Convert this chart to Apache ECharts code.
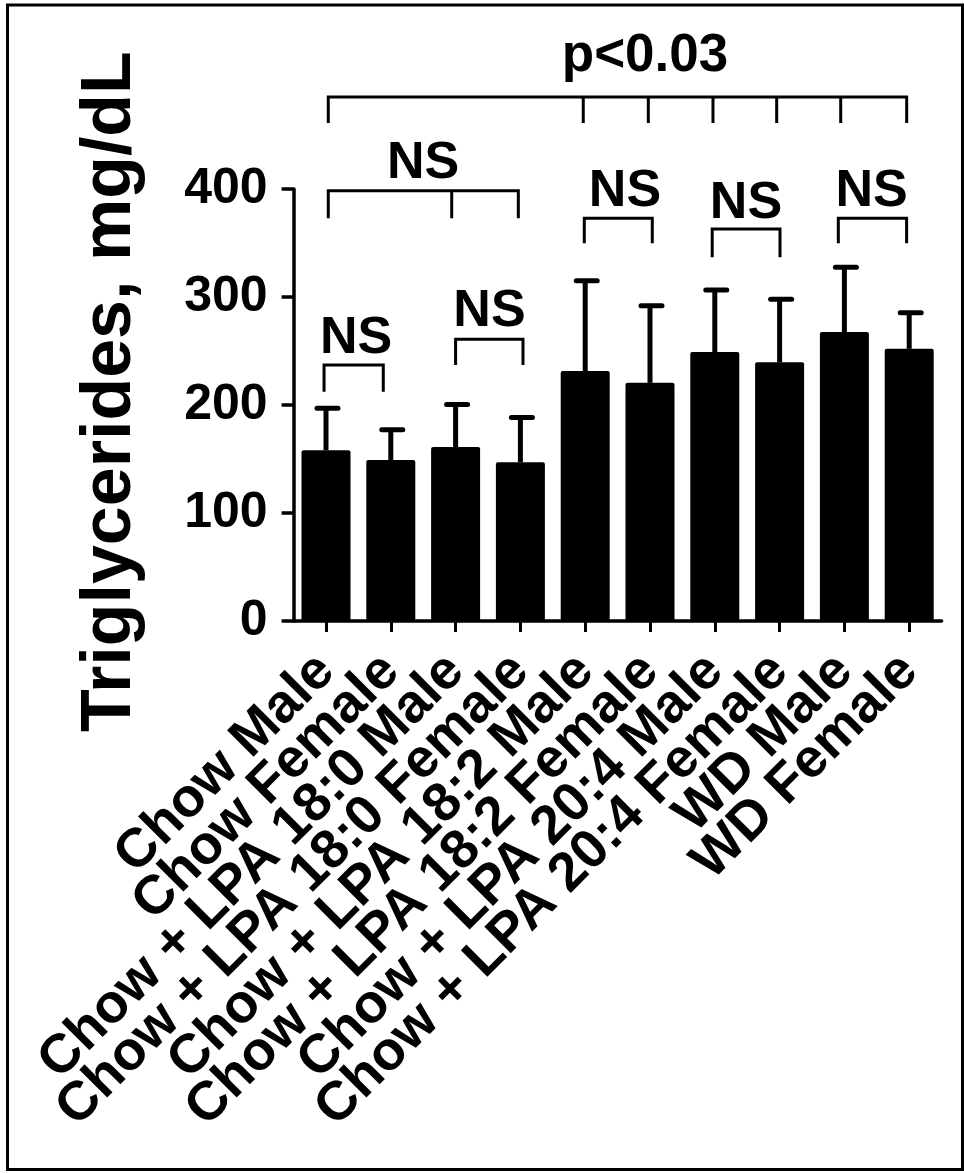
<!DOCTYPE html>
<html>
<head>
<meta charset="utf-8">
<script src="https://cdn.jsdelivr.net/npm/echarts@6/dist/echarts.min.js"></script>
<style>
  html, body { margin: 0; padding: 0; background: #fff; }
  #chart { width: 964px; height: 1173px; }
</style>
</head>
<body>
<div id="chart"></div>
<script>
// ---- data ----
const categories = [
  'Chow Male', 'Chow Female',
  'Chow + LPA 18:0 Male', 'Chow + LPA 18:0 Female',
  'Chow + LPA 18:2 Male', 'Chow + LPA 18:2 Female',
  'Chow + LPA 20:4 Male', 'Chow + LPA 20:4 Female',
  'WD Male', 'WD Female'
];
const means = [158, 149, 161, 147, 231.5, 220.5, 249, 239.5, 267.5, 252];
const sds = [39, 28, 39.5, 41.5, 83.5, 71.5, 57.5, 58.5, 60, 33.5];
const yTicks = [0, 100, 200, 300, 400];
const yTitle = 'Triglycerides, mg/dL';

// significance annotations (x in category units, y in mg/dL)
const annLabels = ['p<0.03', 'NS', 'NS', 'NS', 'NS', 'NS', 'NS'];
const annLegs = [
  [0.035, 3.97, 4.974, 5.972, 6.955, 7.943, 8.961],
  [0.035, 1.94, 2.968],
  [-0.03, 0.884],
  [2.0, 3.04],
  [3.986, 5.035],
  [5.96, 7.006],
  [7.906, 8.96]
];
const annLineY = [485.2, 398.4, 237, 260.8, 372.9, 363, 372.9];
const annLegEndY = [461.1, 372.9, 212.3, 237, 349.7, 336.8, 349.7];
const annTextX = [4.923, 1.497, 0.463, 2.523, 4.614, 6.481, 8.421];
const annTextY = [523.1, 423.1, 261.1, 286.4, 397.5, 386.1, 397.5];

const FONT = '"Liberation Sans", Arial, Helvetica, sans-serif';

const chart = echarts.init(document.getElementById('chart'), null, { renderer: 'canvas' });

const option = {
  animation: false,
  backgroundColor: '#fff',
  grid: { left: 293.6, top: 189, width: 648, height: 432, containLabel: false },
  xAxis: [
    {
      type: 'category',
      data: categories,
      boundaryGap: true,
      axisLine: { show: true, onZero: false, lineStyle: { color: '#000', width: 3.5 } },
      axisTick: { show: true, alignWithLabel: true, length: 11, lineStyle: { color: '#000', width: 3 } },
      axisLabel: {
        interval: 0, rotate: 45, margin: 42,
        fontSize: 54.5, fontWeight: 'bold', fontFamily: FONT, color: '#000'
      },
      splitLine: { show: false }
    },
    { type: 'value', min: -0.5, max: 9.5, show: false,
      axisLine: { onZero: false }, splitLine: { show: false } }
  ],
  yAxis: {
    type: 'value', min: yTicks[0], max: yTicks[yTicks.length - 1], interval: yTicks[1] - yTicks[0],
    axisLine: { show: true, onZero: false, lineStyle: { color: '#000', width: 3.5 } },
    axisTick: { show: true, length: 12, lineStyle: { color: '#000', width: 3.5 } },
    axisLabel: { margin: 26, fontSize: 50, fontWeight: 'bold', fontFamily: FONT, color: '#000' },
    splitLine: { show: false }
  },
  graphic: [
    {
      type: 'rect', z: 100, silent: true,
      shape: { x: 7.5, y: 5, width: 955, height: 1164.5 },
      style: { fill: 'none', stroke: '#000', lineWidth: 3 }
    },
    {
      type: 'text', z: 100, silent: true,
      x: 111, y: 391.5, rotation: Math.PI / 2,
      style: {
        text: yTitle, fill: '#000', font: 'bold 70px ' + FONT,
        align: 'center', verticalAlign: 'middle'
      }
    }
  ],
  series: [
    {
      type: 'bar',
      data: means,
      barWidth: 49,
      itemStyle: { color: '#000', borderRadius: 2 },
      z: 2
    },
    {
      type: 'custom',
      xAxisIndex: 0, yAxisIndex: 0,
      data: means.map((m, i) => [i, m, m + sds[i]]),
      z: 3,
      renderItem: function (params, api) {
        const p0 = api.coord([api.value(0), api.value(1)]);
        const p1 = api.coord([api.value(0), api.value(2)]);
        return {
          type: 'group',
          children: [
            { type: 'line', shape: { x1: p0[0], y1: p0[1], x2: p1[0], y2: p1[1] },
              style: { stroke: '#000', lineWidth: 5 } },
            { type: 'line', shape: { x1: p1[0] - 9, y1: p1[1], x2: p1[0] + 12, y2: p1[1] },
              style: { stroke: '#000', lineWidth: 5, lineCap: 'round' } }
          ]
        };
      }
    },
    {
      type: 'custom',
      xAxisIndex: 1, yAxisIndex: 0,
      clip: false,
      data: annLabels.map((l, i) => [i]),
      z: 5,
      renderItem: function (params, api) {
        const i = params.dataIndex;
        const legs = annLegs[i];
        const children = [];
        const top = api.coord([legs[0], annLineY[i]])[1];
        const bot = api.coord([legs[0], annLegEndY[i]])[1];
        const xs = legs.map(v => api.coord([v, 0])[0]);
        children.push({
          type: 'polyline',
          shape: { points: [[xs[0], bot], [xs[0], top], [xs[xs.length - 1], top], [xs[xs.length - 1], bot]] },
          style: { stroke: '#000', lineWidth: 3, fill: 'none', lineJoin: 'miter' }
        });
        for (let k = 1; k < xs.length - 1; k++) {
          children.push({ type: 'line', shape: { x1: xs[k], y1: top, x2: xs[k], y2: bot },
            style: { stroke: '#000', lineWidth: 3 } });
        }
        const tp = api.coord([annTextX[i], annTextY[i]]);
        children.push({
          type: 'text', x: tp[0], y: tp[1],
          style: {
            text: annLabels[i], fill: '#000',
            font: 'bold ' + (i === 0 ? 53 : 52) + 'px ' + FONT,
            align: 'center', verticalAlign: 'middle'
          }
        });
        return { type: 'group', children: children };
      }
    }
  ]
};
chart.setOption(option);
</script>
</body>
</html>
